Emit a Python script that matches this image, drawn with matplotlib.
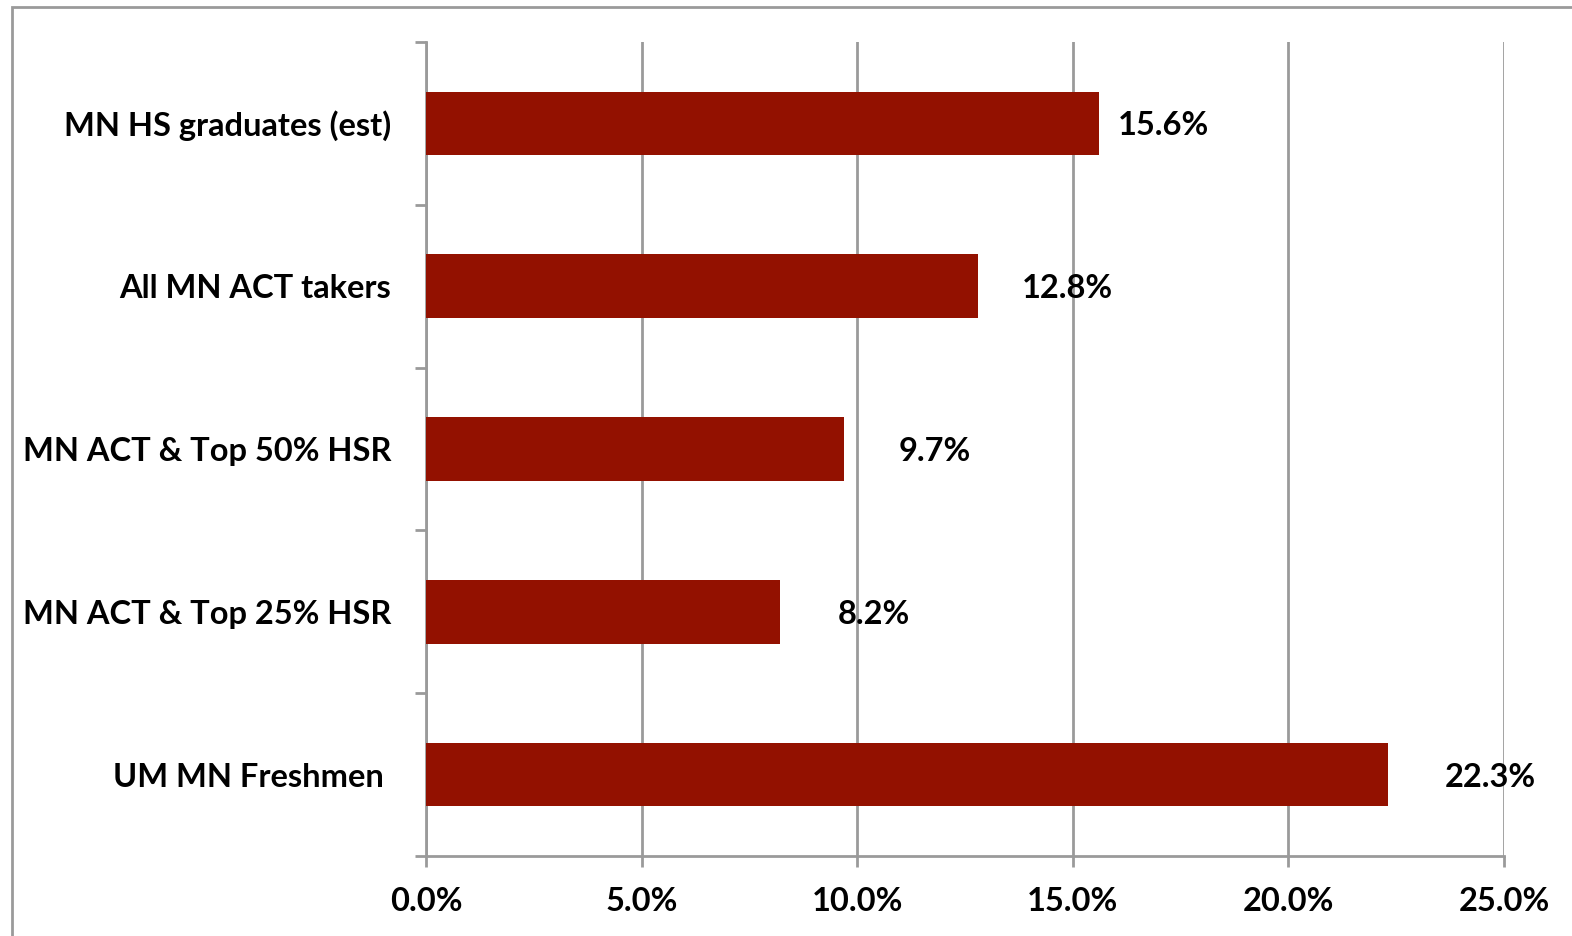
import matplotlib.pyplot as plt
from matplotlib.patches import Rectangle
from matplotlib.ticker import FuncFormatter
import numpy as np

categories = ["MN HS graduates (est)", "All MN ACT takers", "MN ACT & Top 50% HSR",
              "MN ACT & Top 25% HSR", "UM MN Freshmen "]
values = [15.6, 12.8, 9.7, 8.2, 22.3]
value_labels = ["15.6%", "12.8%", "9.7%", "8.2%", "22.3%"]
x_ticks = [0, 5, 10, 15, 20, 25]

# label offsets (percentage points) to the right of the bar end, as placed in the original
label_offsets = [0.45, 1.02, 1.25, 1.35, 1.33]

plt.rcParams['font.family'] = ['Lato', 'DejaVu Sans']
plt.rcParams['font.weight'] = 'bold'

grey = '#9a9a9a'
bar_color = '#931100'
fs = 23.5

fig = plt.figure(figsize=(15.72, 9.36), dpi=100)
ax = fig.add_axes([426/1572, 1 - 856/936, (1504 - 426)/1572, (856 - 42)/936])

y = np.arange(len(categories))
ax.barh(y, values, height=0.39, color=bar_color, zorder=3)

for i, v in enumerate(values):
    ax.text(v + label_offsets[i], y[i], value_labels[i], va='center_baseline', ha='left',
            fontsize=fs, fontweight='bold', zorder=4)

ax.set_ylim(len(categories) - 0.5, -0.5)
ax.set_xlim(0, 25)
ax.set_xticks(x_ticks)
ax.xaxis.set_major_formatter(FuncFormatter(lambda v, p: f"{v:.1f}%"))
ax.set_yticks(y)
ax.set_yticklabels(categories)
ax.set_yticks(np.arange(len(categories) + 1) - 0.5, minor=True)

ax.tick_params(axis='y', which='major', length=0, pad=25, labelsize=fs)
ax.tick_params(axis='y', which='minor', length=8, width=2, color=grey, direction='out')
ax.tick_params(axis='x', length=8, width=2, color=grey, direction='out', pad=14, labelsize=fs)
for lab in ax.get_xticklabels() + ax.get_yticklabels():
    lab.set_fontweight('bold')
    lab.set_verticalalignment('center_baseline') if lab in ax.get_yticklabels() else None

ax.grid(axis='x', color=grey, linewidth=2, zorder=0)
for side in ['top', 'right']:
    ax.spines[side].set_visible(False)
for side in ['left', 'bottom']:
    ax.spines[side].set_color(grey)
    ax.spines[side].set_linewidth(2)

# outer chart frame
fig.patches.append(Rectangle((12/1572, -0.5), 2, 0.5 + 1 - 7/936, transform=fig.transFigure,
                             fill=False, edgecolor=grey, linewidth=2))

fig.savefig("out.png", dpi=100)
